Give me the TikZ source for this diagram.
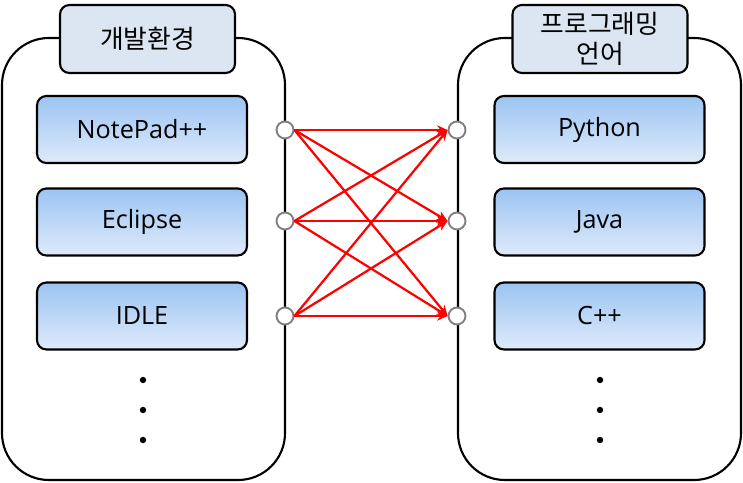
\documentclass[tikz,border=0pt]{standalone}
\usepackage{fontspec}
\setmainfont{Open Sans}
\newfontfamily\krfont{Noto Sans CJK KR}
\usetikzlibrary{arrows.meta,positioning}
\definecolor{titleblue}{RGB}{220,230,242}
\definecolor{boxtop}{RGB}{156,196,242}
\definecolor{boxbottom}{RGB}{222,234,250}
\definecolor{portgray}{RGB}{128,128,128}
\tikzset{
  container/.style={draw=black, line width=1.8pt, rounded corners=40},
  titlebox/.style={draw=black, line width=1.8pt, rounded corners=8, fill=titleblue,
    minimum width=175*0.03cm, minimum height=68*0.03cm, align=center, font=\krfont\fontsize{22}{25}\selectfont},
  toolbox/.style={draw=black, line width=1.8pt, rounded corners=8, top color=boxtop, bottom color=boxbottom,
    minimum width=210*0.03cm, minimum height=67*0.03cm, font=\fontsize{21.5}{24}\selectfont},
  port/.style={circle, draw=portgray, line width=1.6pt, fill=white, inner sep=0pt, minimum size=17*0.03cm},
  link/.style={red, line width=1.9pt, -{Stealth[length=9pt,width=8pt]}},
  dot/.style={circle, fill=black, inner sep=0pt, minimum size=5.5pt}
}
\begin{document}
\begin{tikzpicture}[x=0.03cm, y=-0.03cm]
  \useasboundingbox (0,0) rectangle (743,483);
  % containers
  \draw[container] (2,38) rectangle (285,480);
  \draw[container] (458,38) rectangle (741,480);
  \node[titlebox] (devtitle) at (147.5,39) {개발환경};
  \node[titlebox] (langtitle) at (600,39) {프로그래밍\\[1pt]언어};
  % development tools
  \node[toolbox] (notepad) at (142,129.5) {NotePad++};
  \node[toolbox] (eclipse) at (142,222) {Eclipse};
  \node[toolbox] (idle) at (142,316) {IDLE};
  % languages
  \node[toolbox] (python) at (599.5,129.5) {Python};
  \node[toolbox] (java) at (599.5,222) {Java};
  \node[toolbox] (cpp) at (599.5,316) {C++};
  % dots
  \foreach \y in {380,410,440} {
    \node[dot] at (143,\y) {};
    \node[dot] at (600,\y) {};
  }
  % ports
  \node[port] (l1) at (285,130) {};
  \node[port] (l2) at (285,221) {};
  \node[port] (l3) at (285,316) {};
  \node[port] (r1) at (457,130) {};
  \node[port] (r2) at (457,221) {};
  \node[port] (r3) at (457,316) {};
  % links
  \foreach \i in {1,2,3}
    \foreach \j in {1,2,3}
      \draw[link] (l\i.east) -- (r\j.west);
\end{tikzpicture}
\end{document}
